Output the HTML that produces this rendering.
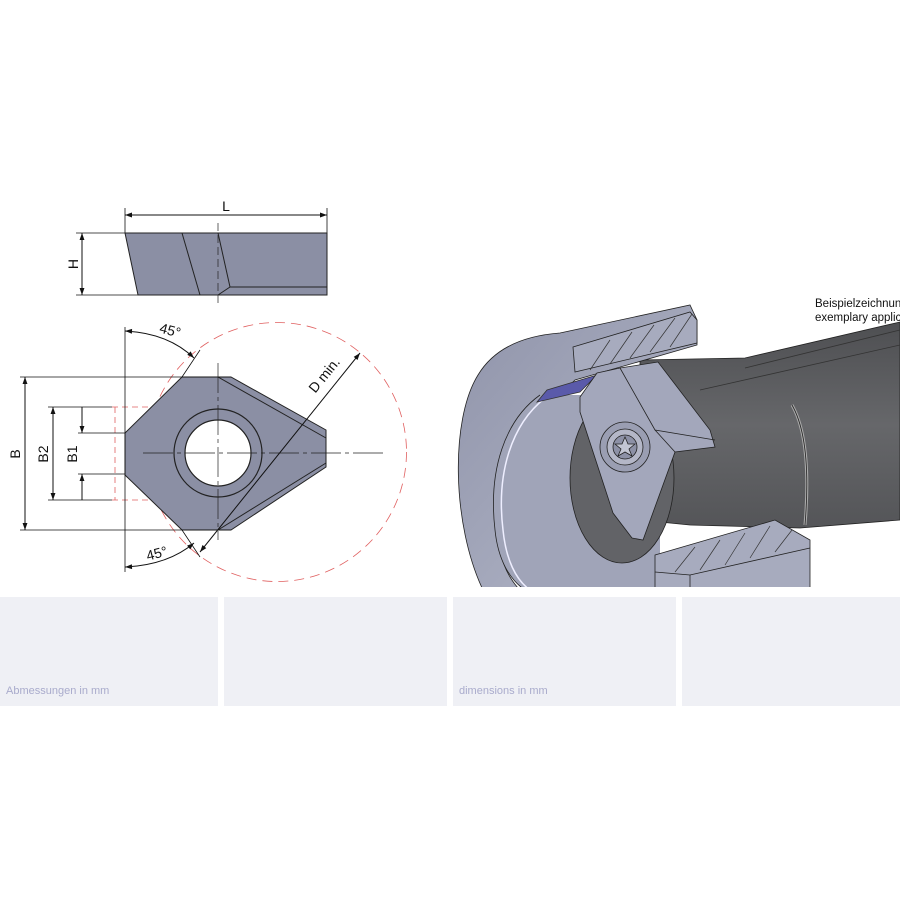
<!DOCTYPE html>
<html><head><meta charset="utf-8"><style>
html,body{margin:0;padding:0;background:#fff;width:900px;height:900px;overflow:hidden}
svg{display:block}
</style></head><body>
<svg width="900" height="900" viewBox="0 0 900 900" xmlns="http://www.w3.org/2000/svg" font-family="Liberation Sans, DejaVu Sans, sans-serif">
<defs>
<marker id="a" viewBox="0 0 10 10" refX="10" refY="5" markerWidth="9" markerHeight="7" orient="auto-start-reverse" markerUnits="userSpaceOnUse"><path d="M0,1.5 L10,5 L0,8.5 z" fill="#111"/></marker>
<linearGradient id="shaft" x1="0" y1="0" x2="0" y2="1"><stop offset="0" stop-color="#4e4f52"/><stop offset="0.5" stop-color="#66676a"/><stop offset="1" stop-color="#545558"/></linearGradient>
<linearGradient id="ring" x1="0" y1="0" x2="1" y2="1"><stop offset="0" stop-color="#9094aa"/><stop offset="0.6" stop-color="#a6aabd"/><stop offset="1" stop-color="#9297ac"/></linearGradient>
<clipPath id="cb"><rect x="440" y="290" width="460" height="297"/></clipPath>
</defs>

<rect x="0" y="597" width="218" height="109" fill="#eff0f5"/>
<rect x="224" y="597" width="223" height="109" fill="#eff0f5"/>
<rect x="453" y="597" width="223" height="109" fill="#eff0f5"/>
<rect x="682" y="597" width="218" height="109" fill="#eff0f5"/>
<text x="6" y="694" font-size="11" fill="#a9abcc">Abmessungen in mm</text>
<text x="459" y="694" font-size="11" fill="#a9abcc">dimensions in mm</text>

<g stroke="#111" stroke-width="1" fill="none">
<line x1="125" y1="208" x2="125" y2="233" stroke-width="0.8"/>
<line x1="327" y1="208" x2="327" y2="233" stroke-width="0.8"/>
<line x1="125" y1="215" x2="327" y2="215" marker-start="url(#a)" marker-end="url(#a)"/>
<line x1="76" y1="233" x2="125" y2="233" stroke-width="0.8"/>
<line x1="76" y1="295" x2="138" y2="295" stroke-width="0.8"/>
<line x1="82" y1="233" x2="82" y2="295" marker-start="url(#a)" marker-end="url(#a)"/>
</g>
<polygon points="125,233 327,233 327,295 138,295" fill="#8b8fa4" stroke="#222" stroke-width="1"/>
<g stroke="#222" stroke-width="1" fill="none">
<line x1="182" y1="233" x2="200" y2="295"/>
<polyline points="218,233 230,287 327,287"/>
<line x1="230" y1="287" x2="218" y2="295"/>
<line x1="218" y1="223" x2="218" y2="305" stroke-dasharray="8,4" stroke-width="0.7"/>
</g>
<text x="226" y="211" font-size="14" text-anchor="middle" fill="#111">L</text>
<text transform="translate(78,264) rotate(-90)" font-size="14" text-anchor="middle" fill="#111">H</text>

<circle cx="277" cy="452" r="129.5" fill="none" stroke="#e06060" stroke-width="0.8" stroke-dasharray="10,6"/>
<g stroke="#e06060" stroke-width="0.8" stroke-dasharray="6,4" fill="none">
<line x1="112" y1="407" x2="150" y2="407"/>
<line x1="112" y1="500" x2="150" y2="500"/>
<line x1="115" y1="407" x2="115" y2="500"/>
</g>
<polygon points="125,433 182,377 231,377 326,430 326,467 231,530 182,530 125,475" fill="#8b8fa4" stroke="#222" stroke-width="1"/>
<g stroke="#222" stroke-width="1" fill="none">
<line x1="218" y1="377" x2="326" y2="438"/>
<line x1="218" y1="530" x2="326" y2="463"/>
</g>
<circle cx="218" cy="453" r="44" fill="#8b8fa4" stroke="#222" stroke-width="1.2"/>
<circle cx="218" cy="453" r="33" fill="#fff" stroke="#222" stroke-width="1.2"/>
<g stroke="#222" stroke-width="0.7" fill="none">
<line x1="143" y1="453" x2="387" y2="453" stroke-dasharray="30,4,4,4"/>
<line x1="218" y1="363" x2="218" y2="540" stroke-dasharray="30,4,4,4"/>
</g>
<g stroke="#111" stroke-width="0.8" fill="none">
<line x1="125" y1="327" x2="125" y2="572"/>
<line x1="20" y1="377" x2="231" y2="377"/>
<line x1="20" y1="530" x2="231" y2="530"/>
<line x1="48" y1="407" x2="112" y2="407"/>
<line x1="48" y1="500" x2="112" y2="500"/>
<line x1="78" y1="433" x2="125" y2="433"/>
<line x1="78" y1="474" x2="125" y2="474"/>
<line x1="25" y1="377" x2="25" y2="530" marker-start="url(#a)" marker-end="url(#a)" stroke-width="1"/>
<line x1="53" y1="407" x2="53" y2="500" marker-start="url(#a)" marker-end="url(#a)" stroke-width="1"/>
<line x1="82" y1="407" x2="82" y2="433" marker-end="url(#a)" stroke-width="1"/>
<line x1="82" y1="500" x2="82" y2="474" marker-end="url(#a)" stroke-width="1"/>
<line x1="182" y1="377" x2="200" y2="350"/>
<line x1="182" y1="530" x2="200" y2="557"/>
<path d="M125,331 Q168,333 194,358" marker-start="url(#a)" marker-end="url(#a)" stroke-width="1"/>
<path d="M125,567 Q168,565 194,543" marker-start="url(#a)" marker-end="url(#a)" stroke-width="1"/>
<line x1="200" y1="552" x2="360" y2="353" marker-start="url(#a)" marker-end="url(#a)" stroke-width="1"/>
</g>
<text transform="translate(20,454) rotate(-90)" font-size="14" text-anchor="middle" fill="#111">B</text>
<text transform="translate(48,454) rotate(-90)" font-size="14" text-anchor="middle" fill="#111">B2</text>
<text transform="translate(77,454) rotate(-90)" font-size="14" text-anchor="middle" fill="#111">B1</text>
<text transform="translate(169,335) rotate(15)" font-size="14" text-anchor="middle" fill="#111">45°</text>
<text transform="translate(158,558) rotate(-15)" font-size="14" text-anchor="middle" fill="#111">45°</text>
<text transform="translate(328,378) rotate(-51)" font-size="14" text-anchor="middle" fill="#111">D min.</text>

<g clip-path="url(#cb)" stroke="#222" stroke-width="0.8">
<polygon points="640,360 745,358 900,322 900,520 800,528 690,525 640,520" fill="url(#shaft)"/>
<line x1="745" y1="368" x2="900" y2="330" stroke="#333"/>
<line x1="700" y1="390" x2="900" y2="345" stroke="#333"/>
<path d="M792,405 Q812,440 805,525" fill="none" stroke="#aaa" stroke-width="3"/>
<path d="M792,405 Q812,440 805,525" fill="none" stroke="#222"/>
<path d="M483,590 C452,525 450,420 478,375 C493,350 520,336 560,333 L690,305 L697,320 L697,345 L575,380 L560,395 C520,400 490,460 495,520 C497,550 505,575 520,590 Z" fill="url(#ring)"/>
<path d="M540,395 C505,420 488,470 495,530 C498,560 510,580 525,590 L660,590 L660,395 Z" fill="#a0a4b8" stroke="none"/>
<path d="M540,395 C505,420 488,470 495,530 C498,560 510,580 525,590" fill="none"/>
<path d="M545,398 C512,424 496,472 503,530 C506,560 516,580 530,590" fill="none" stroke="#eef" stroke-width="1.5"/>
<ellipse cx="622" cy="478" rx="52" ry="85" fill="#626367"/>
<polygon points="537,402 547,390 597,375 580,392" fill="#5a5aaa" stroke="#333"/>
<polygon points="573,347 690,312 697,320 697,343 575,372" fill="#a7abbe"/>
<g stroke="#333" stroke-width="0.7"><line x1="590" y1="370" x2="610" y2="340"/><line x1="610" y1="364" x2="632" y2="332"/><line x1="630" y1="358" x2="654" y2="325"/><line x1="650" y1="352" x2="675" y2="318"/><line x1="670" y1="347" x2="692" y2="314"/></g>
<polygon points="580,397 597,373 620,368 658,362 710,430 715,447 675,452 643,540 632,538 613,513 580,412" fill="#a3a7bb"/>
<polyline points="620,368 655,430 715,440" fill="none"/>
<line x1="655" y1="430" x2="675" y2="452"/>
<circle cx="625" cy="447" r="25" fill="#9a9eb2"/>
<circle cx="625" cy="447" r="18" fill="#b4b7c7"/>
<circle cx="625" cy="447" r="12" fill="#8d91a6"/>
<path d="M625,437 L628,444 L635,444 L629,449 L632,456 L625,452 L618,456 L621,449 L615,444 L622,444 Z" fill="#c3c6d3"/>
<polygon points="655,555 775,520 810,540 810,590 655,590" fill="#a7abbe"/>
<polyline points="655,572 690,575 810,548" fill="none"/>
<line x1="690" y1="575" x2="690" y2="590"/>
<g stroke="#333" stroke-width="0.7"><line x1="675" y1="572" x2="695" y2="547"/><line x1="700" y1="570" x2="720" y2="540"/><line x1="725" y1="565" x2="745" y2="533"/><line x1="750" y1="558" x2="770" y2="526"/><line x1="775" y1="552" x2="792" y2="530"/></g>
</g>
<text x="815" y="307" font-size="11.5" fill="#111">Beispielzeichnung</text>
<text x="815" y="321" font-size="11.5" fill="#111">exemplary application</text>
</svg>
</body></html>
